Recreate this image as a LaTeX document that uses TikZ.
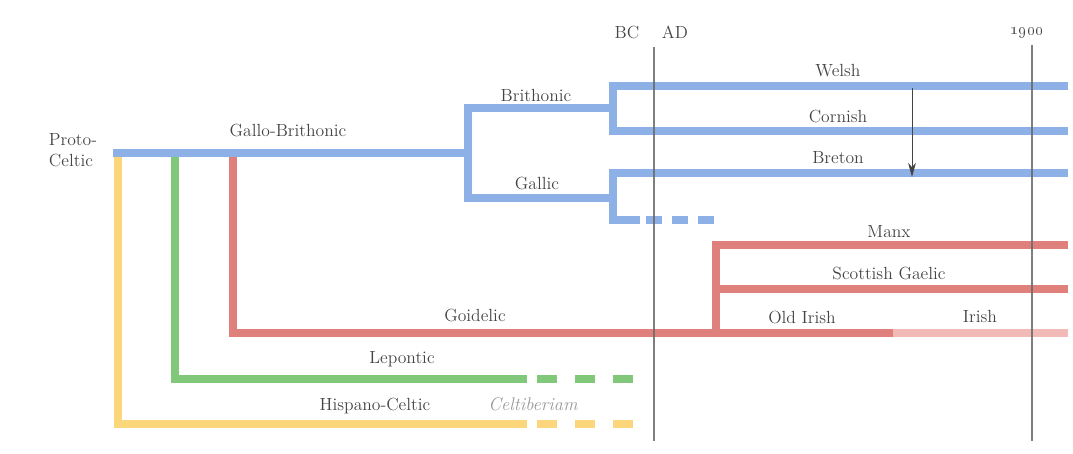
\documentclass[tikz,border=0pt]{standalone}
\usetikzlibrary{arrows.meta}
\definecolor{celtblue}{RGB}{141,176,230}
\definecolor{celtred}{RGB}{224,128,124}
\definecolor{celtpink}{RGB}{241,186,183}
\definecolor{celtgreen}{RGB}{130,200,122}
\definecolor{celtyellow}{RGB}{252,214,122}
\definecolor{inkgray}{RGB}{68,68,68}
\begin{document}
\begin{tikzpicture}[x=0.025cm, y=-0.025cm,
    branch/.style={line width=5pt, line join=miter},
    dashedA/.style={branch, dash pattern=on 14.2pt off 12.8pt},
    dashedB/.style={branch, dash pattern=on 11.4pt off 7.1pt},
    timeline/.style={line width=0.8pt, draw=inkgray!80, opacity=0.85},
    lbl/.style={text=inkgray, font=\fontsize{12.5}{15}\selectfont, inner sep=0pt}]
    \useasboundingbox (0,0) rectangle (1073,454);

    % Punti dei rami
    \coordinate (root) at (113,153);
    \coordinate (gbfork) at (468,153);
    \coordinate (brith) at (613,108);
    \coordinate (gallic) at (613,198);
    \coordinate (welsh0) at (613,86);    \coordinate (welshE) at (1068,86);
    \coordinate (cornish0) at (613,131); \coordinate (cornishE) at (1068,131);
    \coordinate (breton0) at (613,173);  \coordinate (bretonE) at (1068,173);
    \coordinate (gallic0) at (613,220);  \coordinate (gallicS) at (640,220);
    \coordinate (gallicD) at (646,220);  \coordinate (gallicE) at (722,220);
    \coordinate (hcfork) at (118,153);   \coordinate (hcS) at (527,424);
    \coordinate (hcD) at (537,424);      \coordinate (hcE) at (637,424);
    \coordinate (lpfork) at (175,153);   \coordinate (lpS) at (527,379);
    \coordinate (lpD) at (537,379);      \coordinate (lpE) at (637,379);
    \coordinate (gdfork) at (233,153);   \coordinate (gdsplit) at (716,333);
    \coordinate (manx0) at (716,245);    \coordinate (manxE) at (1068,245);
    \coordinate (scot0) at (716,289);    \coordinate (scotE) at (1068,289);
    \coordinate (oldirish) at (893,333); \coordinate (irishE) at (1068,333);

    % Hispano-Celtic e Lepontic
    \draw[branch, celtyellow] (hcfork) |- (hcS);
    \draw[dashedA, celtyellow] (hcD) -- (hcE);
    \draw[branch, celtgreen] (lpfork) |- (lpS);
    \draw[dashedA, celtgreen] (lpD) -- (lpE);

    % Goidelic
    \draw[branch, celtred] (gdfork) |- (oldirish);
    \draw[branch, celtred] (manxE) -- (manx0) -- (gdsplit);
    \draw[branch, celtred] (scot0) -- (scotE);
    \draw[branch, celtpink] (oldirish) -- (irishE);

    % Gallo-Brithonic
    \draw[branch, celtblue] (root) -- (gbfork);
    \draw[branch, celtblue] (brith) -| (gbfork) |- (gallic);
    \draw[branch, celtblue] (welshE) -- (welsh0) -- (cornish0) -- (cornishE);
    \draw[branch, celtblue] (bretonE) -- (breton0) -- (gallic0) -- (gallicS);
    \draw[dashedB, celtblue] (gallicD) -- (gallicE);

    % Linee del tempo
    \coordinate (bcadT) at (654,47);   \coordinate (bcadB) at (654,441);
    \coordinate (ninetT) at (1032,45); \coordinate (ninetB) at (1032,441);
    \draw[timeline] (bcadT) -- (bcadB);
    \draw[timeline] (ninetT) -- (ninetB);

    % Freccia Welsh -> Breton
    \coordinate (arrS) at (912,88);
    \coordinate (arrE) at (912,177);
    \draw[-{Stealth[length=10pt, width=5.5pt, inset=3pt]}, line width=0.7pt, inkgray] (arrS) -- (arrE);

    % Etichette
    \node[lbl, align=left] (protoceltic) at (73,150) {Proto-\\Celtic};
    \node[lbl] (gallobrith) at (288,130) {Gallo-Brithonic};
    \node[lbl] (brithonic) at (536,95) {Brithonic};
    \node[lbl] (gallicl) at (537,183) {Gallic};
    \node[lbl] (welsh) at (838,71) {Welsh};
    \node[lbl] (cornish) at (838,116) {Cornish};
    \node[lbl] (breton) at (838,158) {Breton};
    \node[lbl] (manx) at (889,232) {Manx};
    \node[lbl] (scottish) at (889,273) {Scottish Gaelic};
    \node[lbl] (oldirishl) at (802,317) {Old Irish};
    \node[lbl] (irish) at (980,316) {Irish};
    \node[lbl] (goidelic) at (475,315) {Goidelic};
    \node[lbl] (lepontic) at (402,359) {Lepontic};
    \node[lbl] (hispano) at (375,406) {Hispano-Celtic};
    \node[lbl, text=black!40, font=\fontsize{13}{15}\selectfont\itshape] (celtiberian) at (533,404) {Celtiberiam};
    \node[lbl] (bc) at (627,32) {BC};
    \node[lbl] (ad) at (675,32) {AD};
    \node[lbl] (ninet) at (1027,32) {\oldstylenums{1900}};
\end{tikzpicture}
\end{document}
